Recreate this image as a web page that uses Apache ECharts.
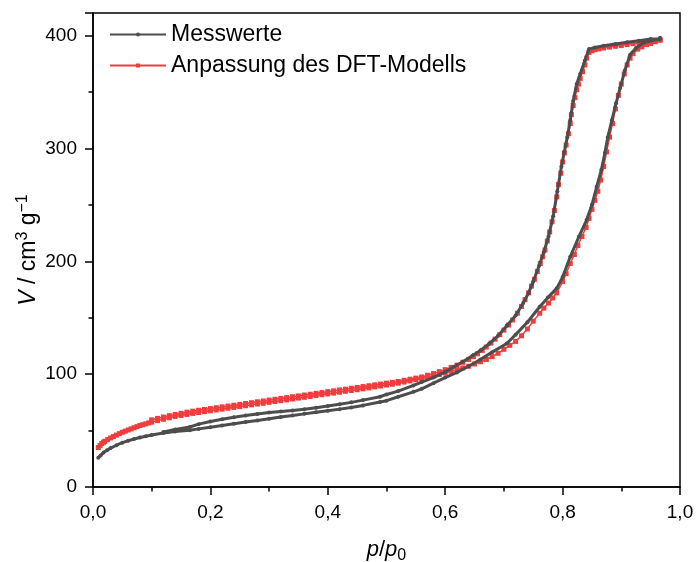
<!DOCTYPE html>
<html>
<head>
<meta charset="utf-8">
<script src="https://cdn.jsdelivr.net/npm/echarts@6/dist/echarts.min.js"></script>
<style>
html,body{margin:0;padding:0;background:#fff;}
#chart{width:696px;height:562px;}
</style>
</head>
<body>
<div id="chart"></div>
<script>
// Messwerte – adsorption branch [p/p0, V]
var messAds = [[0.009,26],[0.013,28],[0.018,30.5],[0.024,32.5],[0.03,34.5],[0.04,37],[0.05,39.3],[0.06,41],[0.07,42.5],[0.08,43.8],[0.09,45],[0.1,46],[0.12,47.8],[0.14,49.2],[0.165,50.3],[0.18,51.5],[0.2,53],[0.22,54.5],[0.24,56],[0.26,57.5],[0.28,59],[0.3,60.5],[0.32,62],[0.34,63.3],[0.36,64.8],[0.38,66.2],[0.4,67.6],[0.42,69],[0.44,70.5],[0.46,72.3],[0.489,75.4],[0.5,76.5],[0.52,80],[0.546,84.3],[0.56,87],[0.58,92],[0.6,97],[0.62,101.5],[0.64,107],[0.66,113],[0.68,119.5],[0.705,127.2],[0.72,135],[0.74,146],[0.761,159.7],[0.775,168],[0.79,176],[0.8,186],[0.813,204],[0.828,222],[0.841,236.7],[0.85,250],[0.858,266],[0.866,281],[0.872,296],[0.877,310],[0.884,325],[0.891,340],[0.898,353.5],[0.906,369],[0.915,383],[0.925,389],[0.937,393.4],[0.95,395.5],[0.966,397]];
// Messwerte – desorption branch
var messDes = [[0.966,398],[0.95,397],[0.93,395.5],[0.91,394],[0.89,392.5],[0.87,391],[0.855,389.5],[0.845,388],[0.838,378],[0.83,366],[0.824,357],[0.818,342],[0.813,325],[0.808,310],[0.803,297],[0.798,284],[0.791,262],[0.784,240],[0.776,222],[0.768,208],[0.76,196],[0.75,182],[0.742,172],[0.733,163],[0.72,152],[0.705,143],[0.69,134],[0.675,127],[0.66,121],[0.648,117],[0.63,111],[0.615,106.5],[0.6,102],[0.58,97],[0.56,93],[0.546,90],[0.52,85],[0.5,82],[0.489,80],[0.46,77],[0.44,75],[0.42,73.3],[0.4,71.7],[0.38,70.2],[0.36,68.8],[0.34,67.8],[0.32,67],[0.3,66],[0.28,64.7],[0.26,63.3],[0.24,61.8],[0.22,60],[0.2,58],[0.18,55.7],[0.165,53.2],[0.14,51],[0.12,48.7]];
// Anpassung des DFT-Modells – adsorption branch
var dftAds = [[0.009,35],[0.012,36.8],[0.015,38.5],[0.018,39.6],[0.02,40.5],[0.025,42],[0.03,43.5],[0.035,44.8],[0.04,46],[0.045,47.3],[0.05,48.5],[0.055,49.5],[0.06,50.5],[0.065,51.5],[0.07,52.5],[0.075,53.5],[0.08,54.5],[0.085,55.2],[0.09,56],[0.095,56.8],[0.1,57.5],[0.11,58.8],[0.12,60],[0.13,61.3],[0.14,62.5],[0.15,63.4],[0.16,64.3],[0.17,65.2],[0.18,66],[0.19,66.8],[0.2,67.5],[0.21,68.3],[0.22,69],[0.23,69.8],[0.24,70.5],[0.25,71.2],[0.26,72],[0.27,72.8],[0.28,73.5],[0.29,74.2],[0.3,75],[0.31,75.8],[0.32,76.5],[0.33,77.2],[0.34,78],[0.35,78.8],[0.36,79.5],[0.37,80.2],[0.38,81],[0.39,81.8],[0.4,82.5],[0.41,83.2],[0.42,84],[0.43,84.8],[0.44,85.5],[0.45,86.2],[0.46,87],[0.47,87.8],[0.48,88.7],[0.49,89.5],[0.5,90.3],[0.51,91.1],[0.52,92],[0.53,93],[0.54,94],[0.55,95],[0.56,96],[0.57,97.2],[0.58,98.5],[0.59,99.7],[0.6,101],[0.61,102.5],[0.62,104],[0.63,105.5],[0.64,107],[0.65,109],[0.66,111],[0.67,113],[0.68,115.5],[0.69,118.5],[0.7,122],[0.71,125.5],[0.72,129],[0.73,134],[0.74,140],[0.75,147],[0.761,154],[0.768,158.5],[0.776,163],[0.783,167.5],[0.79,172],[0.8,182],[0.806,189],[0.813,198],[0.82,206],[0.826,214],[0.833,222],[0.84,230],[0.845,238],[0.85,246],[0.855,254],[0.86,262],[0.865,272],[0.87,284],[0.875,297],[0.88,310],[0.885,322],[0.89,335],[0.895,347],[0.9,357],[0.905,366],[0.91,374],[0.915,380],[0.92,384],[0.928,388],[0.935,390],[0.943,392],[0.95,393],[0.958,394.5],[0.966,396]];
// Anpassung des DFT-Modells – desorption branch
var dftDes = [[0.966,396],[0.958,395.5],[0.95,395],[0.94,394.2],[0.93,393.5],[0.92,392.8],[0.91,392],[0.9,391.2],[0.89,390.5],[0.88,389.8],[0.87,389],[0.862,388.2],[0.855,387.5],[0.85,386.5],[0.845,385],[0.841,380],[0.838,374],[0.834,368],[0.83,362],[0.827,357],[0.824,352],[0.821,345],[0.818,338],[0.815,330],[0.813,322],[0.81,313],[0.806,303],[0.803,296],[0.8,288],[0.797,278],[0.793,268],[0.79,257],[0.786,245],[0.782,235],[0.778,226],[0.774,218],[0.77,210],[0.766,204],[0.762,198],[0.757,191],[0.752,184],[0.747,178],[0.742,172],[0.736,166],[0.73,160],[0.723,154],[0.715,148],[0.708,143.5],[0.7,139],[0.693,135],[0.685,131],[0.678,127.5],[0.67,124],[0.663,121],[0.655,118],[0.648,115.5],[0.64,113],[0.63,110.5],[0.62,108],[0.61,106],[0.6,104],[0.59,102.2],[0.58,100.5],[0.57,99],[0.56,97.5],[0.55,96.5],[0.54,95.5],[0.53,94.5],[0.52,93.5],[0.51,92.7],[0.5,92],[0.49,91.2],[0.48,90.5],[0.47,89.7],[0.46,89],[0.45,88.2],[0.44,87.5],[0.43,86.7],[0.42,86],[0.41,85.2],[0.4,84.5],[0.39,83.7],[0.38,83],[0.37,82.2],[0.36,81.5],[0.35,80.7],[0.34,80],[0.33,79.2],[0.32,78.5],[0.31,77.7],[0.3,77],[0.29,76.2],[0.28,75.5],[0.27,74.7],[0.26,74],[0.25,73.2],[0.24,72.5],[0.23,71.7],[0.22,71],[0.21,70.2],[0.2,69.5],[0.19,68.7],[0.18,68],[0.17,67.2],[0.16,66.3],[0.15,65.3],[0.14,64.3],[0.13,63.2],[0.12,62],[0.11,60.8],[0.1,59.5]];

var seriesNames = ['Messwerte', 'Anpassung des DFT-Modells'];
var xTickLabels = ['0,0','0,2','0,4','0,6','0,8','1,0'];

var chart = echarts.init(document.getElementById('chart'), null, {renderer:'canvas'});
var font = 'Liberation Sans, Arial, sans-serif';
var black = '#000';

var option = {
  animation: false,
  backgroundColor: '#fff',
  textStyle: {fontFamily: font},
  grid: {left: 93, right: 16, top: 13, bottom: 75, containLabel: false, outerBoundsMode: 'none',
         show: true, borderColor: black, borderWidth: 1.5, backgroundColor: 'transparent'},
  legend: {
    data: seriesNames,
    orient: 'vertical',
    left: 104, top: 18,
    itemWidth: 56, itemHeight: 5, itemGap: 8,
    lineStyle: {width: 2},
    textStyle: {fontSize: 23, color: black, fontFamily: font}
  },
  xAxis: {
    type: 'value', min: 0, max: 1, interval: 0.2,
    axisLine: {show: true, lineStyle: {color: black, width: 1.5}},
    axisTick: {show: true, length: 8, lineStyle: {color: black, width: 1.5}},
    minorTick: {show: true, splitNumber: 2, length: 4.5, lineStyle: {color: black, width: 1.5}},
    splitLine: {show: false},
    axisLabel: {fontSize: 19, color: black, margin: 16, fontFamily: font,
      formatter: function(v){ var i = Math.round(v/0.2); return xTickLabels[i] || ''; }},
    name: '{i|p}{n|/}{i|p}{s|0}',
    nameLocation: 'middle', nameGap: 49, nameMoveOverlap: false,
    nameTextStyle: {
      rich: {
        i: {fontSize: 22, fontStyle: 'italic', color: black, fontFamily: font, lineHeight: 28, verticalAlign: 'middle'},
        n: {fontSize: 22, color: black, fontFamily: font, lineHeight: 28, verticalAlign: 'middle'},
        s: {fontSize: 16, color: black, fontFamily: font, lineHeight: 28, verticalAlign: 'bottom'}
      }
    }
  },
  yAxis: {
    type: 'value', min: 0, max: 420, interval: 100,
    axisLine: {show: true, lineStyle: {color: black, width: 1.5}},
    axisTick: {show: true, length: 8, lineStyle: {color: black, width: 1.5}},
    minorTick: {show: true, splitNumber: 2, length: 4.5, lineStyle: {color: black, width: 1.5}},
    splitLine: {show: false},
    axisLabel: {fontSize: 19, color: black, margin: 16, fontFamily: font,
      formatter: function(v){ return v % 100 === 0 ? String(v) : ''; }},
    name: '{i|V}{n| / cm}{s|3}{n| g}{s|\u22121}',
    nameLocation: 'middle', nameGap: 50, nameRotate: 90, nameMoveOverlap: false,
    nameTextStyle: {
      rich: {
        i: {fontSize: 23, fontStyle: 'italic', color: black, fontFamily: font, lineHeight: 28, verticalAlign: 'middle'},
        n: {fontSize: 23, color: black, fontFamily: font, lineHeight: 28, verticalAlign: 'middle'},
        s: {fontSize: 16, color: black, fontFamily: font, lineHeight: 28, verticalAlign: 'top'}
      }
    }
  },
  series: [
    {
      name: seriesNames[1], type: 'line', z: 2,
      data: dftAds.concat(dftDes),
      symbol: 'rect', symbolSize: 5, showAllSymbol: true,
      itemStyle: {color: '#f03c3c'},
      lineStyle: {color: '#f03c3c', width: 1.5}
    },
    {
      name: seriesNames[0], type: 'line', z: 3,
      data: messAds.concat(messDes),
      symbol: 'circle', symbolSize: 4, showAllSymbol: true,
      itemStyle: {color: '#4d4d4d'},
      lineStyle: {color: '#4d4d4d', width: 3}
    }
  ]
};
chart.setOption(option);
</script>
</body>
</html>
